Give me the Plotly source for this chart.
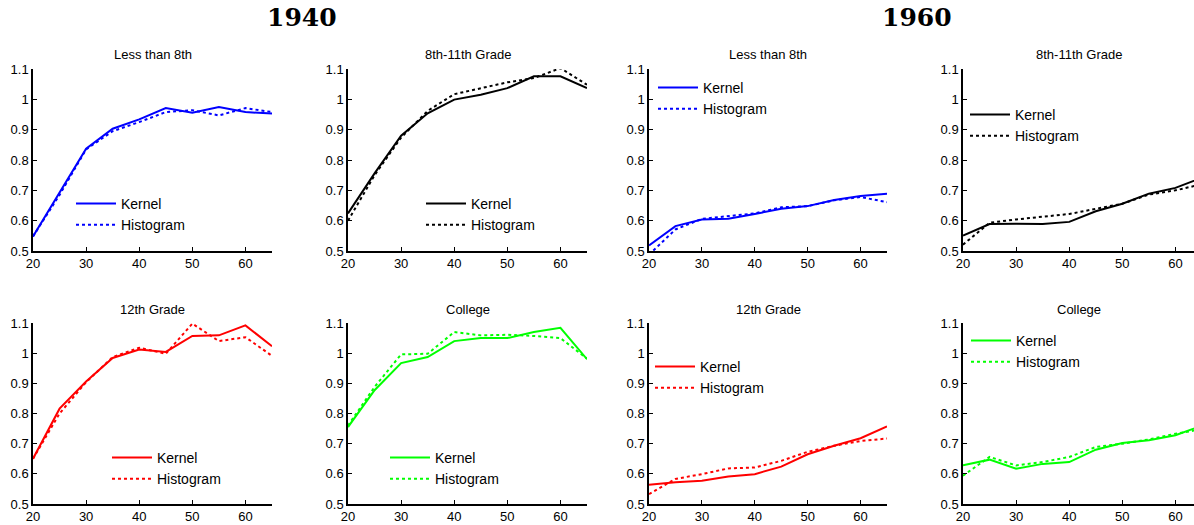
import plotly.graph_objects as go

ages = [20, 25, 30, 35, 40, 45, 50, 55, 60, 65]

panel_titles = ["Less than 8th", "8th-11th Grade", "12th Grade", "College"]
colors = ["#0000FF", "#000000", "#FF0000", "#00FF00"]

# 1940
k1940_lt8 = [0.548, 0.693, 0.837, 0.903, 0.934, 0.971, 0.956, 0.975, 0.958, 0.953]
h1940_lt8 = [0.548, 0.685, 0.835, 0.895, 0.925, 0.958, 0.964, 0.947, 0.971, 0.958]
k1940_811 = [0.624, 0.756, 0.880, 0.954, 0.999, 1.015, 1.037, 1.076, 1.076, 1.037]
h1940_811 = [0.600, 0.750, 0.874, 0.962, 1.017, 1.037, 1.056, 1.070, 1.103, 1.048]
k1940_12 = [0.650, 0.816, 0.906, 0.984, 1.012, 1.004, 1.057, 1.059, 1.092, 1.023]
h1940_12 = [0.650, 0.800, 0.904, 0.987, 1.018, 0.998, 1.098, 1.040, 1.053, 0.991]
k1940_col = [0.755, 0.877, 0.967, 0.987, 1.040, 1.050, 1.050, 1.070, 1.084, 0.980]
h1940_col = [0.760, 0.888, 0.996, 0.998, 1.070, 1.059, 1.061, 1.057, 1.050, 0.982]

# 1960
k1960_lt8 = [0.518, 0.582, 0.604, 0.606, 0.622, 0.639, 0.648, 0.668, 0.681, 0.689]
h1960_lt8 = [0.488, 0.571, 0.606, 0.615, 0.624, 0.644, 0.648, 0.667, 0.678, 0.661]
k1960_811 = [0.551, 0.589, 0.590, 0.589, 0.596, 0.631, 0.656, 0.689, 0.708, 0.742]
h1960_811 = [0.521, 0.593, 0.604, 0.612, 0.622, 0.639, 0.656, 0.686, 0.700, 0.720]
k1960_12 = [0.564, 0.572, 0.577, 0.591, 0.599, 0.624, 0.665, 0.693, 0.718, 0.757]
h1960_12 = [0.533, 0.583, 0.599, 0.618, 0.621, 0.643, 0.673, 0.693, 0.709, 0.717]
k1960_col = [0.628, 0.647, 0.617, 0.633, 0.639, 0.680, 0.702, 0.711, 0.728, 0.760]
h1960_col = [0.594, 0.656, 0.628, 0.639, 0.656, 0.689, 0.700, 0.714, 0.733, 0.748]

y_ticks = [0.5, 0.6, 0.7, 0.8, 0.9, 1.0, 1.1]
y_tick_labels = ["0.5", "0.6", "0.7", "0.8", "0.9", "1", "1.1"]
x_ticks = [20, 30, 40, 50, 60]
x_tick_labels = ["20", "30", "40", "50", "60"]
year_titles = ["1940", "1960"]

W, H = 1194, 525

# (kernel, histogram, title/colour index, x-pixel domain, y-pixel domain, legend px pos)
panels = [
    (k1940_lt8, h1940_lt8, 0, (33, 272), (69, 251), (71, 188)),
    (k1940_811, h1940_811, 1, (348, 587), (69, 251), (421, 188)),
    (k1960_lt8, h1960_lt8, 0, (649, 887), (69, 251), (653, 72)),
    (k1960_811, h1960_811, 1, (963, 1194), (69, 251), (965, 99)),
    (k1940_12, h1940_12, 2, (33, 272), (323, 504), (107, 442)),
    (k1940_col, h1940_col, 3, (348, 587), (323, 504), (385, 442)),
    (k1960_12, h1960_12, 2, (649, 887), (323, 504), (650, 351)),
    (k1960_col, h1960_col, 3, (963, 1194), (323, 504), (966, 325)),
]

fig = go.Figure()
font_main = "Liberation Sans, Arial, sans-serif"
annotations = []
layout_updates = {}

for i, (kern, hist, ti, (x0, x1), (y0, y1), (lx, ly)) in enumerate(panels):
    n = i + 1
    xa = "x" if n == 1 else f"x{n}"
    ya = "y" if n == 1 else f"y{n}"
    leg = "legend" if n == 1 else f"legend{n}"
    col = colors[ti]
    fig.add_trace(go.Scatter(x=ages, y=kern, mode="lines", name="Kernel",
                             line=dict(color=col, width=2), xaxis=xa, yaxis=ya,
                             legend=leg, cliponaxis=True))
    fig.add_trace(go.Scatter(x=ages, y=hist, mode="lines", name="Histogram",
                             line=dict(color=col, width=2, dash="dot"), xaxis=xa, yaxis=ya,
                             legend=leg, cliponaxis=True))
    xr = [20, 65] if x1 < W else [20, 20 + (x1 - x0) / (239 / 45)]
    axis_common = dict(showline=True, linecolor="black", linewidth=1.5, mirror=False,
                       ticks="inside", ticklen=4, tickwidth=1, tickcolor="black",
                       showgrid=False, zeroline=False,
                       tickfont=dict(family=font_main, size=13, color="black"))
    layout_updates["xaxis" if n == 1 else f"xaxis{n}"] = dict(
        domain=[x0 / W, x1 / W], range=xr, anchor=ya,
        tickvals=x_ticks, ticktext=x_tick_labels, **axis_common)
    layout_updates["yaxis" if n == 1 else f"yaxis{n}"] = dict(
        domain=[1 - y1 / H, 1 - y0 / H], range=[0.5, 1.1], anchor=xa,
        tickvals=y_ticks, ticktext=y_tick_labels, **axis_common)
    layout_updates[leg] = dict(x=lx / W, y=1 - ly / H, xanchor="left", yanchor="top",
                               bgcolor="rgba(0,0,0,0)", borderwidth=0,
                               font=dict(family=font_main, size=14, color="black"),
                               itemwidth=40, tracegroupgap=0)
    annotations.append(dict(text=panel_titles[ti], x=(x0 + x1) / 2 / W,
                            y=1 - (y0 - 14) / H, xref="paper", yref="paper",
                            xanchor="center", yanchor="middle", showarrow=False,
                            font=dict(family=font_main, size=13, color="black")))

for t, cx in zip(year_titles, [302, 917]):
    annotations.append(dict(text="<b>" + t + "</b>", x=cx / W, y=1 - 18 / H,
                            xref="paper", yref="paper", xanchor="center", yanchor="middle",
                            showarrow=False,
                            font=dict(family="DejaVu Serif, serif", size=25, color="black")))

fig.update_layout(width=W, height=H,
                  margin=dict(l=0, r=0, t=0, b=0, pad=0, autoexpand=False),
                  paper_bgcolor="white", plot_bgcolor="white",
                  showlegend=True, annotations=annotations, **layout_updates)

fig.write_html("out.html")
